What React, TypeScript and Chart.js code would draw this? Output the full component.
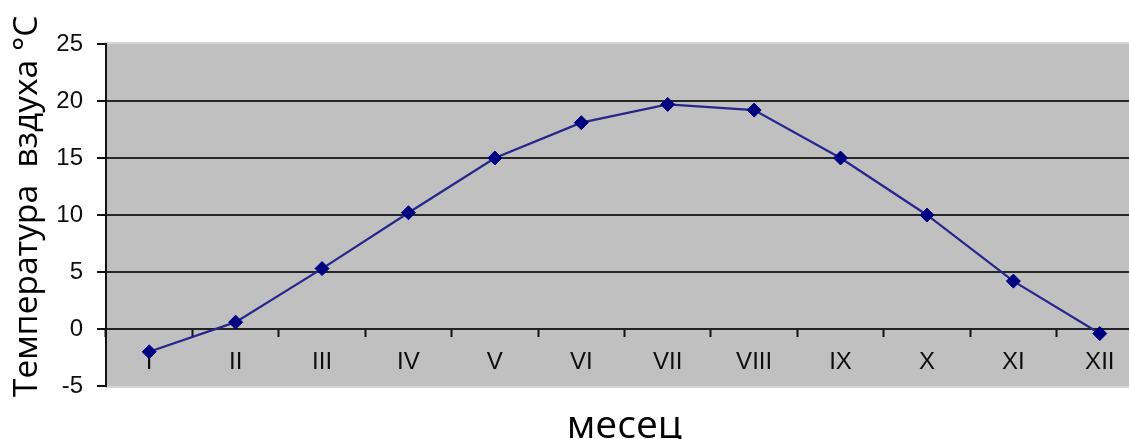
import React, { useEffect, useRef } from "react";
import { Chart, registerables } from "chart.js";

Chart.register(...registerables);

const months = ["I", "II", "III", "IV", "V", "VI", "VII", "VIII", "IX", "X", "XI", "XII"];
const temperatures = [-2.0, 0.6, 5.3, 10.2, 15.0, 18.1, 19.7, 19.2, 15.0, 10.0, 4.2, -0.4];
const yTitle = "  Температура  вздуха °C";
const xTitle = "месец";
const yMin = -5;
const yMax = 25;
const yStep = 5;

const plotBg = {
  id: "plotBg",
  beforeDraw(chart: any) {
    const { ctx, chartArea: a } = chart;
    ctx.save();
    ctx.fillStyle = "#c0c0c0";
    ctx.fillRect(a.left, a.top, a.right - a.left, a.bottom - a.top);
    ctx.strokeStyle = "#d4d4d4";
    ctx.lineWidth = 2;
    ctx.strokeRect(a.left, a.top - 1, a.right - a.left + 2, a.bottom - a.top + 2);
    ctx.restore();
  },
};

export default function App() {
  const ref = useRef<HTMLCanvasElement>(null);
  useEffect(() => {
    document.body.style.overflow = "hidden";
    const chart = new Chart(ref.current!, {
      type: "line",
      data: {
        labels: months,
        datasets: [
          {
            data: temperatures,
            borderColor: "#26268c",
            borderWidth: 2.2,
            pointStyle: "rectRot",
            pointRadius: 7,
            pointBackgroundColor: "#000080",
            pointBorderColor: "#000080",
            pointBorderWidth: 1,
            tension: 0,
            xAxisID: "x",
          },
        ],
      },
      options: {
        animation: false,
        responsive: false,
        maintainAspectRatio: false,
        layout: { padding: { top: 44, right: 17, bottom: 0, left: 0 } },
        plugins: { legend: { display: false }, tooltip: { enabled: false }, title: { display: false } },
        scales: {
          x: {
            type: "category",
            position: { y: 0 } as any,
            offset: true,
            grid: {
              drawOnChartArea: false,
              drawTicks: true,
              tickLength: 7,
              tickColor: "#111",
              tickWidth: 2,
              offset: true,
            },
            border: { display: true, color: "#222", width: 2 },
            ticks: {
              color: "#0d0d0d",
              font: { family: "'Liberation Sans', Arial, sans-serif", size: 24 },
              padding: 12,
              maxRotation: 0,
              autoSkip: false,
            },
            afterFit(scale: any) {
              scale.height = 0;
            },
          },
          x2: {
            type: "category",
            labels: months,
            position: "bottom",
            grid: { display: false },
            border: { display: false },
            ticks: { display: false },
            title: {
              display: true,
              text: xTitle,
              color: "#000",
              font: { family: "'Open Sans', sans-serif", size: 39 },
              padding: { top: 0, bottom: -11 },
            },
            afterFit(scale: any) {
              scale.height = 53;
            },
          },
          y: {
            type: "linear",
            min: yMin,
            max: yMax,
            ticks: {
              stepSize: yStep,
              color: "#0d0d0d",
              font: { family: "'Liberation Sans', Arial, sans-serif", size: 24 },
              padding: 14,
            },
            grid: {
              color: (ctx: any) =>
                ctx.tick && (ctx.tick.value === yMax || ctx.tick.value === yMin) ? "rgba(0,0,0,0)" : "#262626",
              lineWidth: 2,
              drawTicks: true,
              tickLength: 9,
              tickColor: "#111",
              tickWidth: 2,
            },
            border: { display: true, color: "#111", width: 2 },
            title: {
              display: true,
              text: yTitle,
              color: "#000",
              font: { family: "'Open Sans', sans-serif", size: 33.5 },
              padding: { top: 7, bottom: 0 },
            },
            afterFit(scale: any) {
              scale.width = 106;
            },
          },
        },
      },
      plugins: [plotBg],
    });
    return () => chart.destroy();
  }, []);
  return (
    <div style={{ position: "absolute", left: 0, top: 0, width: 1129, height: 439, overflow: "hidden", background: "#fff" }}>
      <canvas ref={ref} width={1160} height={439} style={{ display: "block", width: 1160, height: 439 }} />
    </div>
  );
}
